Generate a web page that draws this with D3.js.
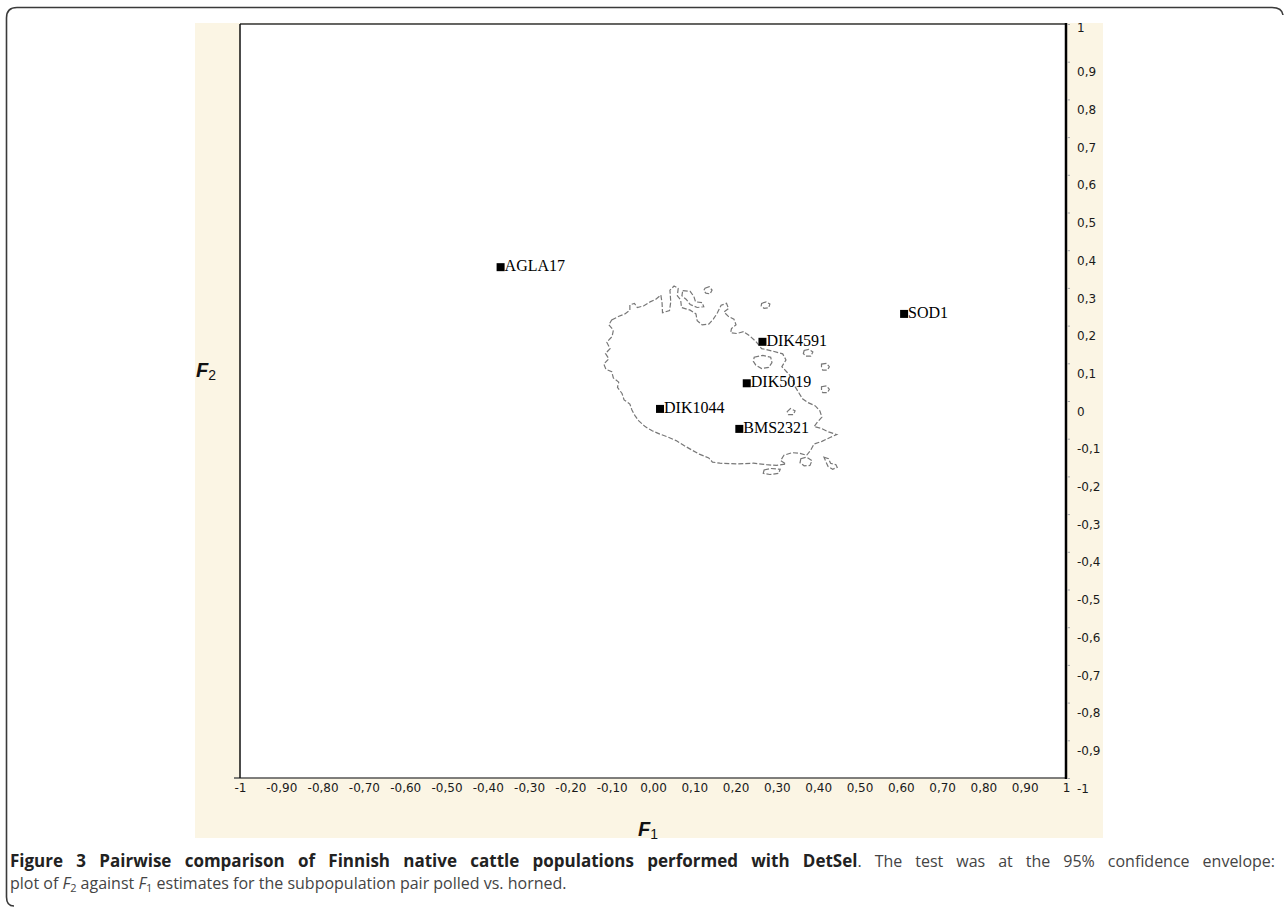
<!DOCTYPE html>
<html>
<head>
<meta charset="utf-8">
<script src="https://cdn.jsdelivr.net/npm/d3@7"></script>
<style>
  body { margin: 0; background: #fff; }
  svg { display: block; }
</style>
</head>
<body>
<svg id="chart" width="1287" height="909"></svg>
<script>
// tick values and their printed labels (comma decimals as in DetSel)
var xTicks = [-1, -0.9, -0.8, -0.7, -0.6, -0.5, -0.4, -0.3, -0.2, -0.1, 0, 0.1, 0.2, 0.3, 0.4, 0.5, 0.6, 0.7, 0.8, 0.9, 1]
var xTickLabels = ["-1", "-0,90", "-0,80", "-0,70", "-0,60", "-0,50", "-0,40", "-0,30", "-0,20", "-0,10", "0,00",
    "0,10", "0,20", "0,30", "0,40", "0,50", "0,60", "0,70", "0,80", "0,90", "1"]
var yTicks = [1, 0.9, 0.8, 0.7, 0.6, 0.5, 0.4, 0.3, 0.2, 0.1, 0, -0.1, -0.2, -0.3, -0.4, -0.5, -0.6, -0.7, -0.8, -0.9, -1]
var yTickLabels = ["1", "0,9", "0,8", "0,7", "0,6", "0,5", "0,4", "0,3", "0,2", "0,1", "0",
    "-0,1", "-0,2", "-0,3", "-0,4", "-0,5", "-0,6", "-0,7", "-0,8", "-0,9", "-1"]

// loci (F1, F2)
var lociNames = ["AGLA17", "SOD1", "DIK4591", "DIK5019", "DIK1044", "BMS2321"]
var lociF1 = [-0.369, 0.608, 0.265, 0.227, 0.017, 0.209]
var lociF2 = [0.355, 0.231, 0.157, 0.047, -0.021, -0.074]

// 95% envelope, main outline (F1, F2)
var envelopeMain = [
    [-0.100, 0.215], [-0.084, 0.224], [-0.068, 0.231], [-0.056, 0.241], [-0.056, 0.255], [-0.045, 0.259],
    [-0.038, 0.248], [-0.023, 0.252], [-0.007, 0.263], [0.007, 0.270], [0.019, 0.281], [0.022, 0.259],
    [0.023, 0.234], [0.040, 0.240], [0.043, 0.263], [0.041, 0.294], [0.051, 0.305], [0.061, 0.299],
    [0.059, 0.279], [0.067, 0.268], [0.069, 0.248], [0.090, 0.241], [0.104, 0.231], [0.107, 0.213],
    [0.119, 0.202], [0.135, 0.204], [0.146, 0.217], [0.156, 0.234], [0.165, 0.254], [0.178, 0.259],
    [0.183, 0.245], [0.172, 0.236], [0.183, 0.224], [0.196, 0.217], [0.201, 0.202], [0.190, 0.192],
    [0.188, 0.181], [0.203, 0.179], [0.219, 0.184], [0.235, 0.172], [0.249, 0.158], [0.263, 0.139],
    [0.291, 0.132], [0.314, 0.125], [0.322, 0.109], [0.312, 0.091], [0.324, 0.077], [0.338, 0.060],
    [0.344, 0.038], [0.353, 0.022], [0.362, 0.006], [0.375, -0.004], [0.393, -0.013], [0.404, -0.026],
    [0.409, -0.043], [0.398, -0.056], [0.390, -0.068], [0.406, -0.072], [0.425, -0.082], [0.445, -0.089],
    [0.430, -0.096], [0.409, -0.107], [0.390, -0.114], [0.382, -0.130], [0.372, -0.144], [0.356, -0.139],
    [0.337, -0.137], [0.317, -0.144], [0.309, -0.158], [0.322, -0.167], [0.299, -0.171], [0.275, -0.169],
    [0.243, -0.165], [0.203, -0.167], [0.162, -0.165], [0.144, -0.162], [0.135, -0.151], [0.112, -0.141],
    [0.094, -0.130], [0.075, -0.118], [0.056, -0.105], [0.035, -0.095], [0.017, -0.088], [-0.002, -0.079],
    [-0.019, -0.068], [-0.035, -0.052], [-0.044, -0.038], [-0.051, -0.024], [-0.056, -0.008], [-0.070, 0.003],
    [-0.075, 0.020], [-0.086, 0.036], [-0.083, 0.050], [-0.096, 0.061], [-0.100, 0.078], [-0.114, 0.084],
    [-0.119, 0.098], [-0.107, 0.112], [-0.115, 0.126], [-0.104, 0.139], [-0.112, 0.156], [-0.099, 0.171],
    [-0.096, 0.188], [-0.107, 0.202]
]
// small separate islands of the envelope
var envelopeIslands = [
    [[0.072, 0.293], [0.090, 0.291], [0.099, 0.277], [0.103, 0.263], [0.119, 0.261], [0.123, 0.250],
     [0.107, 0.248], [0.090, 0.256], [0.080, 0.270], [0.070, 0.279]],
    [[0.126, 0.299], [0.136, 0.303], [0.143, 0.294], [0.138, 0.284], [0.128, 0.286], [0.123, 0.293]],
    [[0.263, 0.259], [0.274, 0.263], [0.283, 0.257], [0.280, 0.247], [0.269, 0.246], [0.262, 0.252]],
    [[0.366, 0.134], [0.377, 0.137], [0.387, 0.130], [0.382, 0.119], [0.370, 0.119], [0.364, 0.126]],
    [[0.408, 0.098], [0.420, 0.100], [0.427, 0.091], [0.422, 0.082], [0.411, 0.082], [0.408, 0.089]],
    [[0.408, 0.038], [0.420, 0.040], [0.427, 0.031], [0.422, 0.022], [0.411, 0.022], [0.408, 0.029]],
    [[0.245, 0.116], [0.266, 0.121], [0.285, 0.116], [0.288, 0.102], [0.280, 0.089], [0.263, 0.086],
     [0.249, 0.095], [0.243, 0.105]],
    [[0.325, -0.028], [0.333, -0.020], [0.344, -0.026], [0.340, -0.036], [0.328, -0.036]],
    [[0.414, -0.149], [0.425, -0.153], [0.430, -0.165], [0.443, -0.169], [0.446, -0.176], [0.435, -0.181],
     [0.424, -0.174], [0.419, -0.162]],
    [[0.358, -0.153], [0.372, -0.149], [0.385, -0.158], [0.380, -0.171], [0.366, -0.172], [0.356, -0.164]],
    [[0.269, -0.183], [0.285, -0.179], [0.308, -0.181], [0.304, -0.192], [0.283, -0.195], [0.267, -0.192]]
]

var svg = d3.select("#chart")

var x = d3.scaleLinear().domain([-1, 1]).range([240, 1066])
var y = d3.scaleLinear().domain([-1, 1]).range([778, 24])

// outer figure frame (open at right/bottom)
svg.append("path")
    .attr("d", "M14,906 Q6.5,906 6.5,897 L6.5,18 Q6.5,7.5 17,7.5 L1272,7.5 Q1282,7.5 1283,15")
    .attr("fill", "none").attr("stroke", "#3a3a3a").attr("stroke-width", 1.6)

// beige panel + white plot area
svg.append("rect").attr("x", 195).attr("y", 23).attr("width", 908).attr("height", 815).attr("fill", "#fbf5e4")
svg.append("rect").attr("x", 240).attr("y", 24).attr("width", 826).attr("height", 754).attr("fill", "#fff")

// envelope
var line = d3.line().x(function (d) { return x(d[0]) }).y(function (d) { return y(d[1]) })
var env = svg.append("g").attr("fill", "none").attr("stroke", "#777")
    .attr("stroke-width", 1.2).attr("stroke-dasharray", "5,2")
env.append("path").attr("d", line(envelopeMain) + "Z")
envelopeIslands.forEach(function (isl) {
    env.append("path").attr("d", line(isl) + "Z")
})

// frame lines
svg.append("line").attr("x1", 234).attr("x2", 1066).attr("y1", 778).attr("y2", 778)
    .attr("stroke", "#555").attr("stroke-width", 1.5)
svg.append("line").attr("x1", 240).attr("x2", 1066).attr("y1", 24).attr("y2", 24)
    .attr("stroke", "#333").attr("stroke-width", 1.5)
svg.append("line").attr("x1", 240).attr("x2", 240).attr("y1", 24).attr("y2", 778)
    .attr("stroke", "#111").attr("stroke-width", 1.5)
svg.append("line").attr("x1", 1066).attr("x2", 1066).attr("y1", 23).attr("y2", 779)
    .attr("stroke", "#000").attr("stroke-width", 2.5)

// x axis labels
var xAxis = svg.append("g")
    .attr("transform", "translate(0,778)")
    .call(d3.axisBottom(x).tickValues(xTicks).tickSize(0).tickPadding(0)
        .tickFormat(function (d, i) { return xTickLabels[i] }))
xAxis.select(".domain").remove()
xAxis.selectAll("text")
    .attr("y", 10).attr("dy", "0.35em")
    .style("font-family", "DejaVu Sans").style("font-size", "12px").attr("fill", "#1a1a1a")

// y axis on the right
var yAxis = svg.append("g")
    .attr("transform", "translate(1067,0)")
    .call(d3.axisRight(y).tickValues(yTicks).tickSize(3)
        .tickFormat(function (d, i) { return yTickLabels[i] }))
yAxis.select(".domain").remove()
yAxis.selectAll("line").attr("stroke", "#aaa")
yAxis.selectAll("text")
    .attr("x", 10).attr("dy", "0.35em")
    .attr("y", function (d) { return d === 1 ? 3 : 10 })
    .style("font-family", "DejaVu Sans").style("font-size", "12px").attr("fill", "#1a1a1a")

// loci markers and names
var loci = lociNames.map(function (n, i) { return { name: n, f1: lociF1[i], f2: lociF2[i] } })
svg.selectAll(".locus")
    .data(loci).enter().append("rect")
    .attr("class", "locus")
    .attr("x", function (d) { return x(d.f1) - 4 })
    .attr("y", function (d) { return y(d.f2) - 4 })
    .attr("width", 8).attr("height", 8).attr("fill", "#000")
svg.selectAll(".locusLabel")
    .data(loci).enter().append("text")
    .attr("class", "locusLabel")
    .attr("x", function (d) { return x(d.f1) + 4 })
    .attr("y", function (d) { return y(d.f2) + 4 })
    .style("font-family", "Liberation Serif").style("font-size", "16px").attr("fill", "#000")
    .text(function (d) { return d.name })

// axis titles
var f2 = svg.append("text").attr("x", 196).attr("y", 377)
    .style("font-family", "Liberation Sans").attr("fill", "#111")
f2.append("tspan").style("font-size", "20px").style("font-weight", "bold").style("font-style", "italic").text("F")
f2.append("tspan").attr("dy", 3).style("font-size", "14px").text("2")
var f1 = svg.append("text").attr("x", 638).attr("y", 836)
    .style("font-family", "Liberation Sans").attr("fill", "#111")
f1.append("tspan").style("font-size", "20px").style("font-weight", "bold").style("font-style", "italic").text("F")
f1.append("tspan").attr("dy", 3).style("font-size", "14px").text("1")

// caption
var cap1 = svg.append("text").attr("x", 10).attr("y", 867)
    .style("font-family", "Open Sans").style("font-size", "16px")
cap1.append("tspan").style("font-weight", "bold").style("font-size", "17px").attr("fill", "#222")
    .text("Figure 3 Pairwise comparison of Finnish native cattle populations performed with DetSel")
cap1.append("tspan").attr("fill", "#444").text(". The test was at the 95% confidence envelope:")
// justify first line to the right edge
var natural = cap1.node().getComputedTextLength()
var spaces = cap1.text().split(" ").length - 1
cap1.style("word-spacing", ((1275 - 10 - natural) / spaces) + "px")

var cap2 = svg.append("text").attr("x", 10).attr("y", 889)
    .style("font-family", "Open Sans").style("font-size", "16px").attr("fill", "#444")
cap2.append("tspan").text("plot of ")
cap2.append("tspan").style("font-style", "italic").text("F")
cap2.append("tspan").attr("dy", 3).style("font-size", "11px").text("2")
cap2.append("tspan").attr("dy", -3).text(" against ")
cap2.append("tspan").style("font-style", "italic").text("F")
cap2.append("tspan").attr("dy", 3).style("font-size", "11px").text("1")
cap2.append("tspan").attr("dy", -3).text(" estimates for the subpopulation pair polled vs. horned.")
</script>
</body>
</html>
